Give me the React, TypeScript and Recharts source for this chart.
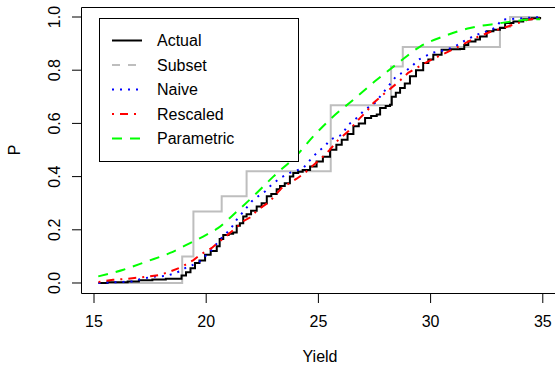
import React from "react";
import { Line, LineChart, XAxis, YAxis } from "recharts";

// Yield values (x) and cumulative probability (y)
const actualX = [15.2, 15.6, 16.5, 17.0, 17.6, 18.2, 18.9, 19.1, 19.3, 19.5, 19.7, 19.95, 20.2, 20.47, 20.6, 20.76, 21.0, 21.2, 21.36, 21.5, 21.65, 21.8, 22.0, 22.25, 22.47, 22.7, 22.9, 23.14, 23.29, 23.5, 23.73, 23.88, 24.1, 24.3, 24.63, 24.92, 25.2, 25.52, 25.8, 26.04, 26.3, 26.56, 26.8, 27.08, 27.35, 27.6, 27.75, 28.0, 28.19, 28.27, 28.45, 28.64, 28.85, 29.08, 29.35, 29.67, 29.9, 30.12, 30.49, 30.9, 31.31, 31.5, 31.68, 32.0, 32.2, 32.5, 32.8, 33.09, 33.32, 33.69, 34.13, 34.5, 34.88];
const actualY = [0.0, 0.003, 0.006, 0.01, 0.013, 0.016, 0.028, 0.04, 0.055, 0.075, 0.085, 0.106, 0.12, 0.138, 0.165, 0.18, 0.185, 0.19, 0.215, 0.225, 0.25, 0.258, 0.272, 0.288, 0.3, 0.326, 0.335, 0.352, 0.365, 0.375, 0.4, 0.414, 0.418, 0.425, 0.438, 0.457, 0.475, 0.501, 0.52, 0.539, 0.56, 0.589, 0.6, 0.62, 0.628, 0.633, 0.658, 0.665, 0.67, 0.7, 0.715, 0.733, 0.75, 0.777, 0.8, 0.827, 0.84, 0.858, 0.877, 0.879, 0.88, 0.895, 0.908, 0.915, 0.927, 0.946, 0.952, 0.959, 0.977, 0.983, 0.992, 0.995, 1.0];

const subsetX = [15.19, 18.93, 19.43, 20.69, 21.8, 25.55, 28.24, 28.76, 33.09, 33.54, 34.88];
const subsetY = [0.0, 0.1, 0.269, 0.326, 0.42, 0.668, 0.814, 0.887, 0.962, 1.0, 1.0];

const naiveX = [15.2, 16.0, 16.7, 17.1, 17.57, 18.24, 18.53, 18.83, 19.06, 19.4, 19.72, 19.95, 20.25, 20.54, 20.8, 21.06, 21.36, 21.73, 22.03, 22.3, 22.62, 22.92, 23.3, 23.73, 24.33, 24.5, 24.77, 25.07, 25.3, 25.52, 26.04, 26.33, 26.7, 27.08, 27.52, 27.82, 28.19, 28.49, 28.86, 29.16, 29.45, 30.05, 30.72, 31.2, 31.6, 32.05, 32.5, 32.9, 33.17, 34.88];
const naiveY = [0.0, 0.003, 0.006, 0.015, 0.023, 0.027, 0.035, 0.044, 0.056, 0.068, 0.081, 0.1, 0.125, 0.156, 0.18, 0.2, 0.238, 0.276, 0.307, 0.325, 0.344, 0.37, 0.395, 0.414, 0.432, 0.45, 0.476, 0.5, 0.515, 0.539, 0.557, 0.595, 0.62, 0.652, 0.677, 0.708, 0.748, 0.78, 0.795, 0.814, 0.839, 0.865, 0.877, 0.895, 0.915, 0.933, 0.946, 0.96, 0.99, 1.0];

const rescaledX = [15.2, 15.85, 16.5, 17.3, 17.9, 18.3, 18.9, 19.43, 19.8, 20.25, 20.5, 20.91, 21.3, 21.65, 21.95, 22.3, 22.84, 23.36, 23.7, 24.03, 24.4, 24.8, 25.22, 25.5, 25.89, 26.33, 26.85, 27.15, 27.45, 27.97, 28.56, 29.0, 29.4, 29.75, 30.3, 30.79, 31.4, 31.98, 32.72, 33.1, 33.54, 34.0, 34.35, 34.88];
const rescaledY = [0.004, 0.012, 0.016, 0.023, 0.03, 0.04, 0.06, 0.086, 0.11, 0.132, 0.15, 0.178, 0.205, 0.232, 0.246, 0.275, 0.307, 0.357, 0.375, 0.392, 0.414, 0.445, 0.476, 0.5, 0.539, 0.57, 0.62, 0.645, 0.677, 0.714, 0.755, 0.79, 0.81, 0.827, 0.85, 0.87, 0.895, 0.921, 0.946, 0.955, 0.967, 0.98, 0.99, 0.995];

const paramX = [15.19, 16.31, 17.35, 18.39, 19.28, 20.02, 20.54, 21.21, 22.1, 22.99, 24.03, 24.77, 25.66, 26.56, 27.6, 28.6, 29.53, 30.57, 31.76, 32.95, 33.98, 34.88];
const paramY = [0.025, 0.05, 0.081, 0.113, 0.15, 0.182, 0.207, 0.257, 0.326, 0.4, 0.48, 0.551, 0.626, 0.689, 0.764, 0.83, 0.889, 0.927, 0.959, 0.975, 0.987, 0.992];

const xTicks = [15, 20, 25, 30, 35];
const yTicks = [0, 0.2, 0.4, 0.6, 0.8, 1.0];

// the plot box runs past the right edge of the picture
const X_DOMAIN: [number, number] = [14.465, 35.544];
const Y_DOMAIN: [number, number] = [-0.0376, 1.0376];

const FONT = '"Liberation Sans", Arial, Helvetica, sans-serif';

const zip = (xs: number[], ys: number[]) => xs.map((x, i) => ({ x, y: ys[i] }));

const legendItems = [
  { name: "Actual", color: "#000000", dash: undefined as string | undefined },
  { name: "Subset", color: "#BEBEBE", dash: "8 8" },
  { name: "Naive", color: "#0000FF", dash: "2 6" },
  { name: "Rescaled", color: "#FF0000", dash: "2 6 8 6" },
  { name: "Parametric", color: "#00FF00", dash: "10 8" },
];

function YTick(props: any) {
  const { y, payload } = props;
  return (
    <text
      x={60}
      y={y}
      transform={`rotate(-90 60 ${y})`}
      textAnchor="middle"
      fontSize={16}
      fill="#000"
      fontFamily={FONT}
    >
      {Number(payload.value).toFixed(1)}
    </text>
  );
}

export default function App() {
  return (
    <div
      style={{
        width: 555,
        height: 366,
        overflow: "hidden",
        position: "relative",
        background: "#fff",
        fontFamily: FONT,
      }}
    >
      <style>{"html,body{margin:0;padding:0;overflow:hidden}"}</style>
      <LineChart width={555} height={366} margin={{ top: 7, right: 0, bottom: 0, left: 0 }}>
        <XAxis
          type="number"
          dataKey="x"
          domain={X_DOMAIN}
          ticks={xTicks}
          allowDataOverflow
          axisLine={false}
          tickSize={10}
          tickMargin={13}
          height={73}
          tickLine={{ stroke: "#000" }}
          tick={{ fill: "#000", fontSize: 16, fontFamily: FONT }}
        />
        <YAxis
          type="number"
          dataKey="y"
          domain={Y_DOMAIN}
          ticks={yTicks}
          allowDataOverflow
          axisLine={false}
          tickSize={10}
          width={82}
          tickLine={{ stroke: "#000" }}
          tick={<YTick />}
        />
        <Line data={zip(subsetX, subsetY)} dataKey="y" type="stepAfter" stroke="#BEBEBE" strokeWidth={2} dot={false} isAnimationActive={false} />
        <Line data={zip(actualX, actualY)} dataKey="y" type="stepAfter" stroke="#000" strokeWidth={2} dot={false} isAnimationActive={false} />
        <Line data={zip(naiveX, naiveY)} dataKey="y" type="linear" stroke="#0000FF" strokeWidth={2} strokeDasharray="2 6" dot={false} isAnimationActive={false} />
        <Line data={zip(rescaledX, rescaledY)} dataKey="y" type="linear" stroke="#FF0000" strokeWidth={2} strokeDasharray="2 6 8 6" dot={false} isAnimationActive={false} />
        <Line data={zip(paramX, paramY)} dataKey="y" type="monotone" stroke="#00FF00" strokeWidth={2} strokeDasharray="10 8" dot={false} isAnimationActive={false} />
      </LineChart>

      <svg
        width={555}
        height={366}
        style={{ position: "absolute", left: 0, top: 0, pointerEvents: "none" }}
        fontFamily={FONT}
      >
        {/* plot box: top, left and bottom sides */}
        <line x1={81.5} x2={555} y1={7.5} y2={7.5} stroke="#000" strokeWidth={1} />
        <line x1={81.5} x2={81.5} y1={7.5} y2={293.5} stroke="#000" strokeWidth={1} />
        <line x1={81.5} x2={555} y1={293.5} y2={293.5} stroke="#000" strokeWidth={1} />
        <rect x={99.5} y={18.5} width={199} height={143} fill="#fff" stroke="#000" strokeWidth={1} />
        {legendItems.map((d, i) => {
          const cy = 40.5 + i * 24.5;
          return (
            <g key={d.name}>
              <line x1={112} x2={142} y1={cy} y2={cy} stroke={d.color} strokeWidth={2} strokeDasharray={d.dash} />
              <text x={157} y={cy} dominantBaseline="central" fontSize={16} fill="#000">
                {d.name}
              </text>
            </g>
          );
        })}
        <text x={320} y={362} textAnchor="middle" fontSize={16} fill="#000">
          Yield
        </text>
        <text x={20} y={150} transform="rotate(-90 20 150)" textAnchor="middle" fontSize={16} fill="#000">
          P
        </text>
      </svg>
    </div>
  );
}
